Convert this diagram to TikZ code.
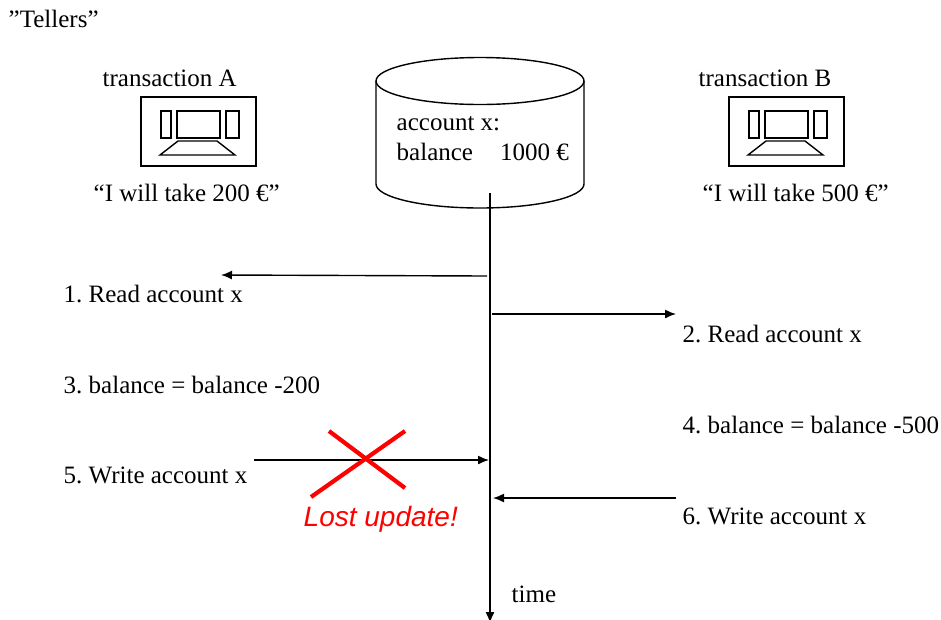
\documentclass[tikz,border=0pt]{standalone}
\usepackage{fontspec}
\setmainfont{Liberation Serif}
\newfontfamily\lostfont{Liberation Sans}
\usetikzlibrary{arrows.meta}
\frenchspacing

\begin{document}
\begin{tikzpicture}[x=1pt, y=-1pt, line width=1.4pt,
    txt/.style={anchor=base west, inner sep=0pt, font=\fontsize{25}{28}\selectfont},
    msg/.style={-{Latex[length=11pt,width=9pt]}},
    cross/.style={draw=red, line width=4.2pt}]
    \useasboundingbox (0, 0) rectangle (941, 619);

    \def\Bal{balance\hspace{27pt}1000 €}

    % tellers
    \node[txt] (tellers) at (8, 27) {”Tellers”};
    \node[txt] (transA) at (102, 86) {transaction A};
    \node[txt] (transB) at (698, 86) {transaction B};
    \node[txt] (takeA) at (93, 201) {“I will take 200 €”};
    \node[txt] (takeB) at (702, 201) {“I will take 500 €”};

    \foreach \s in {0, 588}{%
        \begin{scope}[xshift=\s pt]
        \draw (141, 97) rectangle (256, 166);
        \draw (161, 111) rectangle (171, 138);
        \draw (177, 111) rectangle (220, 138);
        \draw (226, 111) rectangle (239, 138);
        \draw (160, 155) -- (178, 141) -- (217, 141) -- (235, 155) -- cycle;
        \end{scope}
    }

    % database
    \draw (480, 81) ellipse (104 and 23.5);
    \draw (376, 81) -- (376, 184) arc[start angle=180, end angle=360, x radius=104, y radius=-24] -- (584, 81);
    \node[txt] (acc) at (396, 130) {account x:};
    \node[txt] (bal) at (396, 160) {\Bal};

    % time line
    \coordinate (T0) at (490, 193);
    \coordinate (T1) at (490, 623);
    \draw[msg] (T0) -- (T1);
    \node[txt] (time) at (511, 602) {time};

    \node[txt] (s1) at (63, 302) {1. Read account x};
    \node[txt] (s2) at (682, 342) {2. Read account x};
    \node[txt] (s3) at (63, 393) {3. balance = balance -200};
    \node[txt] (s4) at (682, 433) {4. balance = balance -500};
    \node[txt] (s5) at (63, 483) {5. Write account x};
    \node[txt] (s6) at (682, 524) {6. Write account x};

    \coordinate (A1) at (487, 276);
    \coordinate (B1) at (221, 275);
    \coordinate (A2) at (492, 314);
    \coordinate (B2) at (676, 314);
    \coordinate (A3) at (254, 460);
    \coordinate (B3) at (489, 460);
    \coordinate (A4) at (676, 498);
    \coordinate (B4) at (493, 498);

    \foreach \p in {1, 2, 3, 4}
        \draw[msg] (A\p) -- (B\p);

    % lost update
    \coordinate (X1) at (329, 431);
    \coordinate (X2) at (405, 488);
    \coordinate (X3) at (311, 497);
    \coordinate (X4) at (405, 431);
    \draw[cross] (X1) -- (X2);
    \draw[cross] (X3) -- (X4);
    \node[txt, text=red, font=\fontsize{28}{31}\selectfont\lostfont\itshape] (lost) at (303, 526) {Lost update!};
\end{tikzpicture}
\end{document}
